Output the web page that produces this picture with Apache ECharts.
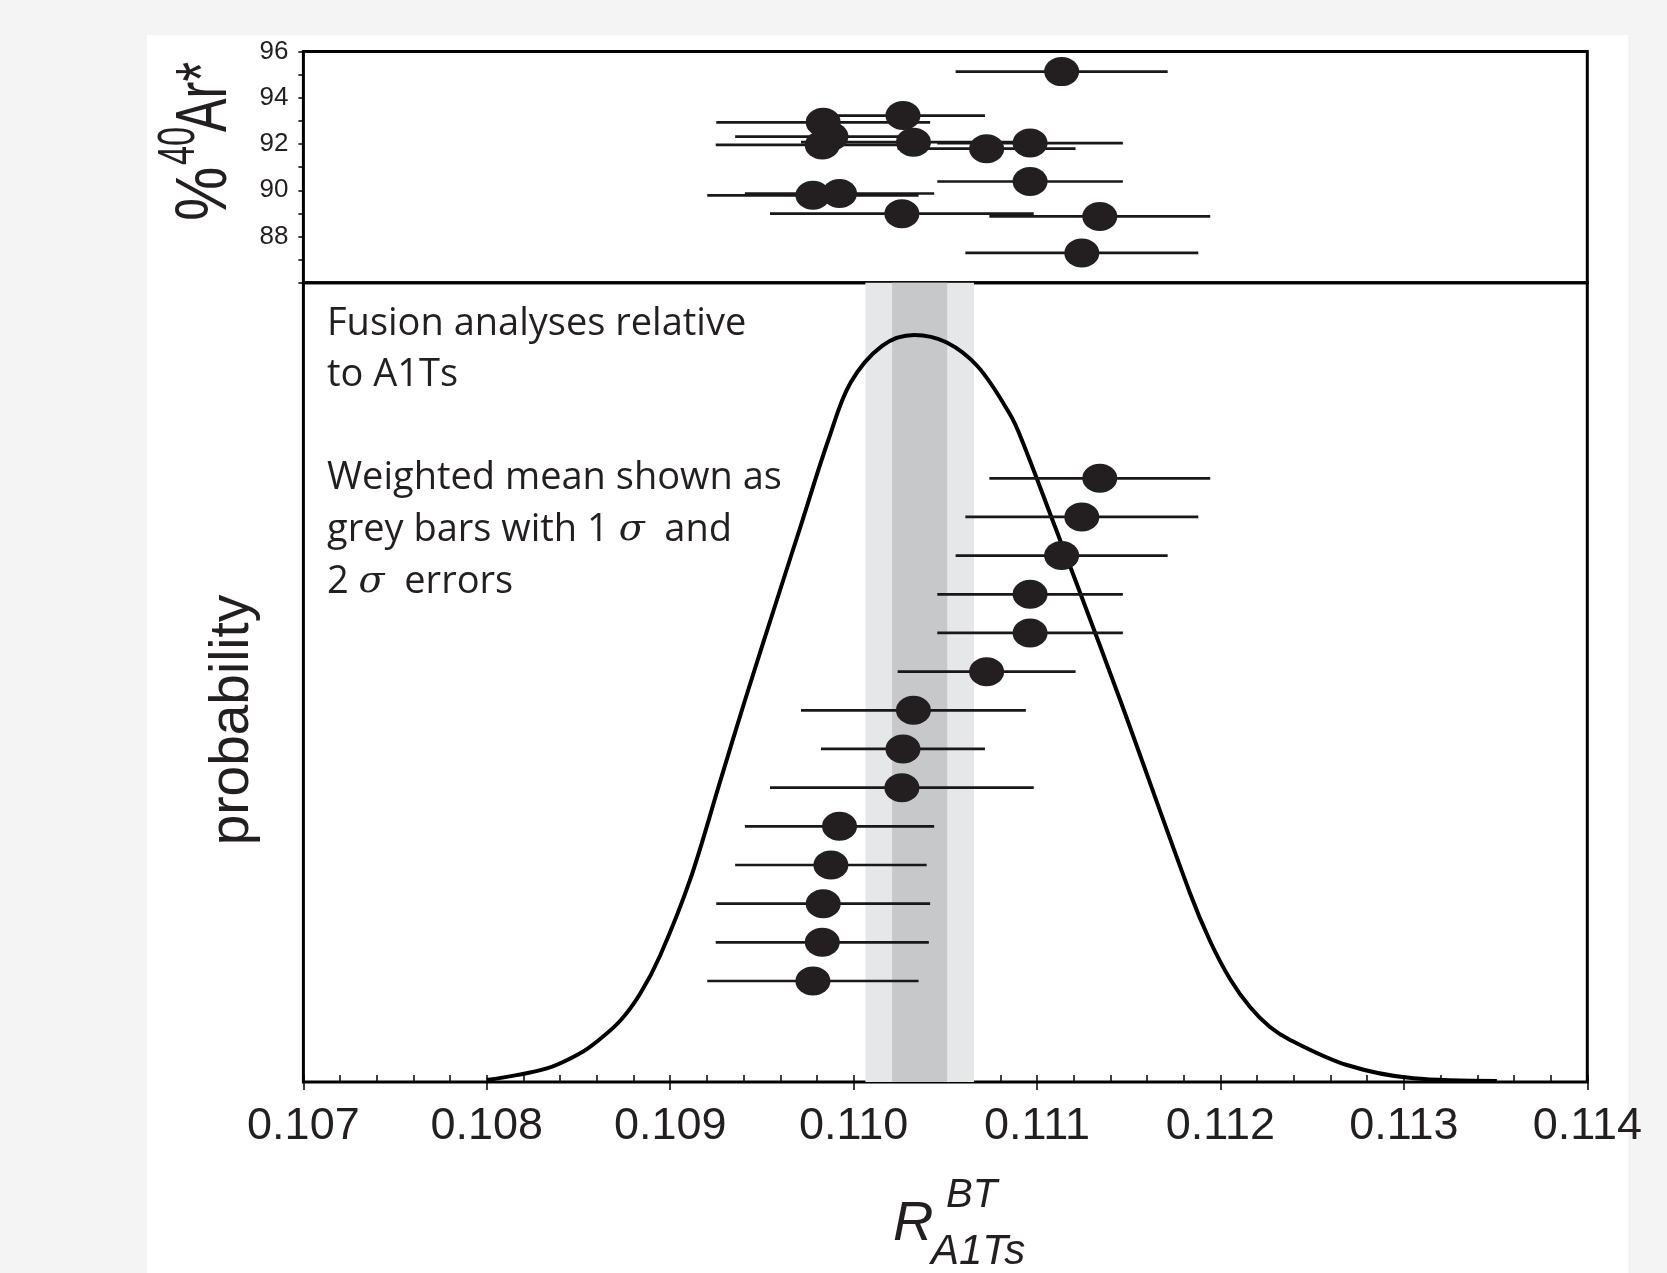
<!DOCTYPE html>
<html><head><meta charset="utf-8">
<script src="https://cdn.jsdelivr.net/npm/echarts@6/dist/echarts.min.js"></script>
<style>html,body{margin:0;padding:0;background:#f4f4f4}#c{width:1667px;height:1273px}</style>
</head><body><div id="c"></div><script>
// ---- data ----
// 14 fusion analyses: R(BT/A1Ts), half-width of error bar, %40Ar*
const analysisR   = [0.111134, 0.110269, 0.109834, 0.109876, 0.109829, 0.110326, 0.110725, 0.110962, 0.110962, 0.109778, 0.109923, 0.110263, 0.111342, 0.111244];
const analysisErr = [0.000578, 0.000447, 0.000583, 0.000522, 0.000581, 0.000613, 0.000485, 0.000506, 0.000506, 0.000576, 0.000516, 0.000719, 0.000602, 0.000635];
const ar40        = [95.13, 93.23, 92.94, 92.32, 91.96, 92.08, 91.80, 92.04, 90.38, 89.78, 89.86, 88.99, 88.87, 87.29];
// probability density curve (relative height)
const curveR    = [0.108000, 0.108327, 0.108508, 0.108599, 0.108726, 0.108835, 0.108944, 0.109108, 0.109269, 0.109408, 0.109599, 0.109712, 0.109862, 0.109983, 0.110157, 0.110331, 0.110505, 0.110678, 0.110853, 0.110917, 0.111084, 0.111229, 0.111453, 0.111834, 0.111943, 0.112052, 0.112161, 0.112270, 0.112380, 0.112689, 0.113052, 0.113507];
const curveProb = [0.0025, 0.0171, 0.0359, 0.0504, 0.0763, 0.1101, 0.1577, 0.2528, 0.3737, 0.4780, 0.6156, 0.6963, 0.8033, 0.8750, 0.9215, 0.9348, 0.9256, 0.8949, 0.8351, 0.8033, 0.7032, 0.6156, 0.4780, 0.2361, 0.1764, 0.1289, 0.0938, 0.0688, 0.0526, 0.0213, 0.0046, 0.0013];
// weighted mean and errors (grey bars)
const wMean = 0.110360, wSigma1 = 0.000150, wSigma2 = 0.000296;
// tick labels
const xTickLabels = ['0.107','0.108','0.109','0.110','0.111','0.112','0.113','0.114'];
const yTopTickLabels = ['88','90','92','94','96'];

const INK = '#231f20';
const order = analysisR.map((r, i) => i).sort((a, b) => analysisR[a] - analysisR[b]);
const rankOf = [];
order.forEach((idx, k) => { rankOf[idx] = k + 1; });

const chart = echarts.init(document.getElementById('c'), null, {renderer: 'canvas'});
const L = 303.4, W = 1283.9;
const lineItem = (api, x1, x2, y) => {
  const a = api.coord([x1, y]), b = api.coord([x2, y]);
  return {type: 'line', shape: {x1: a[0], y1: a[1], x2: b[0], y2: b[1]}, style: {stroke: '#1a1718', lineWidth: 2.7}};
};
const mid = s => -0.3465 * s; // offset so that local y=0 is the baseline
chart.setOption({
  animation: false,
  backgroundColor: '#f4f4f4',
  grid: [
    {left: L, width: W, top: 51.5, height: 231.3, show: true, borderColor: '#000', borderWidth: 3, backgroundColor: 'transparent'},
    {left: L, width: W, top: 282.8, height: 799.2, show: true, borderColor: '#000', borderWidth: 3, backgroundColor: 'transparent'}
  ],
  xAxis: [
    {gridIndex: 0, type: 'value', min: 0.107, max: 0.114, show: false},
    {gridIndex: 1, type: 'value', position: 'bottom', min: 0.107, max: 0.114, interval: 0.001,
      axisLine: {show: false, onZero: false}, splitLine: {show: false},
      axisTick: {show: true, length: 8, lineStyle: {color: '#000', width: 1.5}},
      axisLabel: {formatter: (v, i) => xTickLabels[i], fontSize: 45, fontFamily: 'Liberation Sans', color: INK, margin: 22}},
    {gridIndex: 1, type: 'value', position: 'bottom', min: 0.107, max: 0.114, interval: 0.0002,
      axisLine: {show: false, onZero: false}, splitLine: {show: false}, axisLabel: {show: false},
      axisTick: {show: true, inside: true, length: 7, lineStyle: {color: '#000', width: 1.5}}}
  ],
  yAxis: [
    {gridIndex: 0, type: 'value', position: 'left', min: 86, max: 96, interval: 1,
      axisLine: {show: false, onZero: false}, splitLine: {show: false},
      axisTick: {show: true, length: 5, lineStyle: {color: '#000', width: 1.5}},
      axisLabel: {formatter: v => yTopTickLabels.includes(String(v)) ? String(v) : '', fontSize: 26, fontFamily: 'Liberation Sans', color: INK, margin: 15}},
    {gridIndex: 1, type: 'value', position: 'left', min: 0, max: 1, show: false},
    {gridIndex: 1, type: 'value', position: 'left', min: -1.612, max: 19.055, show: false}
  ],
  series: [
    {type: 'custom', xAxisIndex: 1, yAxisIndex: 1, z: 1, silent: true,
      data: [[wMean - wSigma2, wMean + wSigma2, 0], [wMean - wSigma1, wMean + wSigma1, 1]],
      renderItem: (params, api) => {
        const a = api.coord([api.value(0), 1]), b = api.coord([api.value(1), 0]);
        return {type: 'rect', shape: {x: a[0], y: a[1], width: b[0] - a[0], height: b[1] - a[1]},
          style: {fill: api.value(2) ? '#c7c8ca' : '#e6e7e8'}};
      }},
    {type: 'line', xAxisIndex: 1, yAxisIndex: 1, z: 3, silent: true, smooth: 0.35, showSymbol: false, symbol: 'none',
      lineStyle: {color: '#000', width: 4}, data: curveR.map((r, i) => [r, curveProb[i]])},
    {type: 'custom', xAxisIndex: 1, yAxisIndex: 2, z: 4, silent: true,
      data: analysisR.map((r, i) => [r, rankOf[i], analysisErr[i]]),
      renderItem: (params, api) => lineItem(api, api.value(0) - api.value(2), api.value(0) + api.value(2), api.value(1))},
    {type: 'scatter', xAxisIndex: 1, yAxisIndex: 2, z: 5, silent: true, symbol: 'circle', symbolSize: [35, 29],
      itemStyle: {color: INK, opacity: 1}, data: analysisR.map((r, i) => [r, rankOf[i]])},
    {type: 'custom', xAxisIndex: 0, yAxisIndex: 0, z: 4, silent: true,
      data: analysisR.map((r, i) => [r, ar40[i], analysisErr[i]]),
      renderItem: (params, api) => lineItem(api, api.value(0) - api.value(2), api.value(0) + api.value(2), api.value(1))},
    {type: 'scatter', xAxisIndex: 0, yAxisIndex: 0, z: 5, silent: true, symbol: 'circle', symbolSize: [35, 29],
      itemStyle: {color: INK, opacity: 1}, data: analysisR.map((r, i) => [r, ar40[i]])}
  ],
  graphic: [
    {type: 'rect', z: -10, silent: true, shape: {x: 147, y: 35, width: 1481, height: 1238}, style: {fill: '#fff'}},
    {type: 'text', left: 327, top: 298, z: 10, silent: true,
      style: {text: 'Fusion analyses relative\nto A1Ts\n\nWeighted mean shown as\ngrey bars with 1 {s|σ}  and\n2 {s|σ}  errors',
        font: '38px "Open Sans"', fill: INK, lineHeight: 51.6,
        rich: {s: {fontFamily: 'DejaVu Serif', fontStyle: 'italic', fontSize: 38, lineHeight: 51.6, fill: INK}}}},
    {type: 'text', x: 233, y: 720, rotation: Math.PI / 2, silent: true,
      style: {text: 'probability', font: '55px "Liberation Sans"', fill: INK, align: 'center', verticalAlign: 'middle'}},
    {type: 'group', x: 231, y: 221, rotation: Math.PI / 2, silent: true, children: [
      {type: 'text', x: 0, y: mid(72), scaleX: 0.85, style: {text: '%', font: '72px "Liberation Sans"', fill: INK, align: 'left', verticalAlign: 'middle'}},
      {type: 'text', x: 56, y: -33 + mid(52), scaleX: 0.66, style: {text: '40', font: '52px "Liberation Sans"', fill: INK, align: 'left', verticalAlign: 'middle'}},
      {type: 'text', x: 89, y: mid(72), scaleX: 0.7, style: {text: 'Ar*', font: '72px "Liberation Sans"', fill: INK, align: 'left', verticalAlign: 'middle'}}
    ]},
    {type: 'text', x: 893, y: 1244 + mid(56), silent: true, style: {text: 'R', font: 'italic 56px "Liberation Sans"', fill: INK, align: 'left', verticalAlign: 'middle'}},
    {type: 'text', x: 946, y: 1210 + mid(40), silent: true, style: {text: 'BT', font: 'italic 40px "Liberation Sans"', fill: INK, align: 'left', verticalAlign: 'middle'}},
    {type: 'text', x: 931, y: 1267 + mid(42), silent: true, style: {text: 'A1Ts', font: 'italic 42px "Liberation Sans"', fill: INK, align: 'left', verticalAlign: 'middle'}}
  ]
});
</script></body></html>
